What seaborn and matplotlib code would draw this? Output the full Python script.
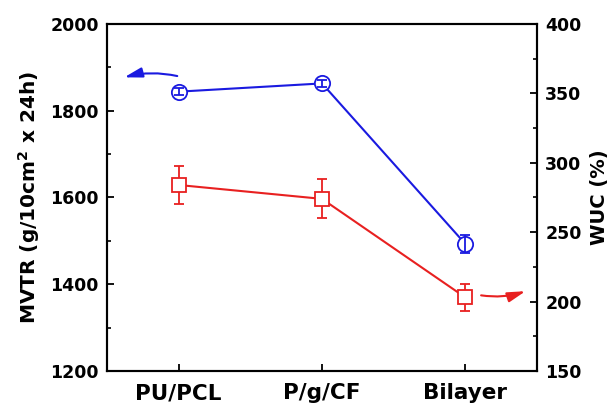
import matplotlib
matplotlib.use("Agg")
import matplotlib.pyplot as plt
import seaborn as sns
import pandas as pd
from matplotlib.ticker import MultipleLocator

categories = ["PU/PCL", "P/g/CF", "Bilayer"]
mvtr = [1844, 1863, 1493]
mvtr_err = [8, 8, 20]
wuc = [284, 274, 203]
wuc_err = [14, 14, 10]

sns.set_theme(style="ticks")
plt.rcParams['font.family'] = ['DejaVu Sans']
plt.rcParams['font.weight'] = 'bold'

blue = "#1a1ae0"
red = "#e82020"

fig = plt.figure(figsize=(6.13, 4.08), dpi=100)
ax = fig.add_axes([0.1746, 0.0907, 0.7014, 0.8505])
ax2 = ax.twinx()

pos = list(range(len(categories)))
df1 = pd.DataFrame({"x": pos, "y": mvtr})
df2 = pd.DataFrame({"x": pos, "y": wuc})

sns.lineplot(data=df1, x="x", y="y", ax=ax, color=blue, lw=1.5, zorder=2)
ax.errorbar(pos, mvtr, fmt='o', ms=11, mfc='white', mec=blue,
            mew=1.3, zorder=3)
ax.errorbar(pos, mvtr, yerr=mvtr_err, fmt='none', ecolor=blue, elinewidth=1.3,
            capsize=3.5, capthick=1.3, zorder=4)

sns.lineplot(data=df2, x="x", y="y", ax=ax2, color=red, lw=1.5, zorder=2)
ax2.errorbar(pos, wuc, yerr=wuc_err, fmt='none', ecolor=red, elinewidth=1.3,
             capsize=3.5, capthick=1.3, zorder=3)
ax2.errorbar(pos, wuc, fmt='s', ms=10, mfc='white', mec=red, mew=1.3, zorder=4)

ax.set_xlim(-0.5, 2.5)
ax.set_ylim(1200, 2000)
ax2.set_ylim(150, 400)
ax.set_xticks(pos)
ax.set_xticklabels(categories, fontsize=15.5, fontweight='bold', color='black')
ax.yaxis.set_major_locator(MultipleLocator(200))
ax.yaxis.set_minor_locator(MultipleLocator(100))
ax2.yaxis.set_major_locator(MultipleLocator(50))
ax2.yaxis.set_minor_locator(MultipleLocator(25))

for a in (ax, ax2):
    for s in a.spines.values():
        s.set_linewidth(1.5)
        s.set_color('black')
    a.tick_params(which='major', direction='in', length=5, width=1.3, colors='black')
    a.tick_params(which='minor', direction='in', length=3, width=1.2, colors='black')
ax.tick_params(axis='y', labelsize=12.5, pad=6)
ax2.tick_params(axis='y', labelsize=12.5, pad=6)
ax.tick_params(axis='x', pad=9)
for lab in ax.get_yticklabels() + ax2.get_yticklabels():
    lab.set_fontweight('bold')

ax.set_xlabel("")
ax.set_ylabel("MVTR (g/10cm$^\\mathbf{2}$ x 24h)", fontsize=14.5, fontweight='bold',
              labelpad=6, color='black')
ax2.set_ylabel("WUC (%)", fontsize=14, fontweight='bold', labelpad=6, color='black')

# arrows indicating axes
ax.annotate("", xy=(-0.38, 1877), xytext=(-0.01, 1880),
            arrowprops=dict(arrowstyle="-|>,head_length=0.9,head_width=0.25", color=blue, lw=1.5,
                            connectionstyle="arc3,rad=0.12", shrinkA=0, shrinkB=0))
ax2.annotate("", xy=(2.42, 207.5), xytext=(2.11, 204.5),
             arrowprops=dict(arrowstyle="-|>,head_length=0.9,head_width=0.25", color=red, lw=1.5,
                             connectionstyle="arc3,rad=0.12", shrinkA=0, shrinkB=0))

fig.savefig("out.png", dpi=100)
